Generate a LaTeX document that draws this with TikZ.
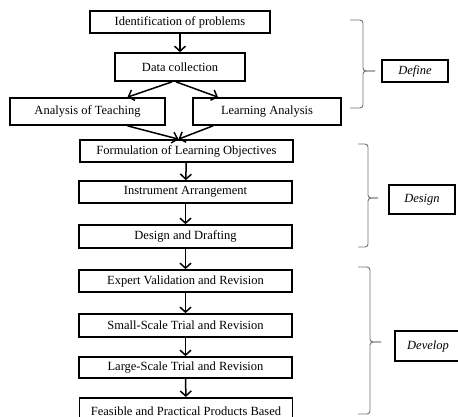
\documentclass[tikz,border=0pt]{standalone}
\usepackage{fontspec}
\setmainfont{Liberation Serif}
\usetikzlibrary{arrows.meta}

\begin{document}
\begin{tikzpicture}[x=1pt, y=-1pt,
    every node/.style={font=\fontsize{12.5}{14}\selectfont},
    stage/.style={draw, line width=1.7pt, inner sep=0pt, minimum width=213pt, minimum height=22pt},
    phase/.style={draw, line width=1.7pt, inner sep=0pt, minimum width=66pt, minimum height=22pt, font=\fontsize{12.5}{14}\selectfont\itshape},
    flow/.style={line width=1.5pt, -{Straight Barb[length=5pt, width=11pt]}},
    grp/.style={draw=black!55, line width=0.9pt, rounded corners=3pt}]
      \clip (0,0) rectangle (458,417);
      % Define stage
      \node[stage, minimum width=180pt] (idf) at (180,22) {Identification of problems};
      \node[stage, minimum width=130pt, minimum height=28pt] (dat) at (180,67) {Data collection};
      \node[stage, minimum width=155pt, minimum height=27pt] (tch) at (87.5,111.5) {Analysis of Teaching};
      \node[stage, minimum width=148pt, minimum height=27pt] (lrn) at (267,111.5) {Learning Analysis};
      % Design stage
      \node[stage] (obj) at (186.5,151) {Formulation of Learning Objectives};
      \node[stage] (ins) at (185.5,192) {Instrument Arrangement};
      \node[stage, minimum height=23pt] (drf) at (185.5,236.5) {Design and Drafting};
      % Develop stage
      \node[stage] (val) at (185.5,281) {Expert Validation and Revision};
      \node[stage, minimum height=23pt] (sml) at (185.5,325.5) {Small-Scale Trial and Revision};
      \node[stage, minimum height=21pt] (lrg) at (185.5,367.5) {Large-Scale Trial and Revision};
      \node[stage, minimum height=26pt, anchor=north] (prd) at (186,397) {Feasible and Practical Products Based};
      % arrows
      \draw[flow] (idf) -- (dat);
      \draw[flow] ([xshift=-8]dat.south) -- ([xshift=40]tch.north);
      \draw[flow] ([xshift=-4]dat.south) -- ([xshift=-49]lrn.north);
      \draw[flow] ([xshift=40]tch.south) -- ([xshift=-8]obj.north);
      \draw[flow] ([xshift=-54]lrn.south) -- ([xshift=-8]obj.north);
      \draw[flow] (obj) -- (ins);
      \draw[flow] (ins) -- (drf);
      \draw[flow] (drf) -- (val);
      \draw[flow] (val) -- (sml);
      \draw[flow] (sml) -- (lrg);
      \draw[flow] (lrg) -- (prd);
      % phase braces
      \draw[grp] (350,20) -| (363,71) -- (375,71);
      \draw[grp] (350,108) -| (363,71) -- (375,71);
      \draw[grp] (358,144) -| (368,198) -- (378,198);
      \draw[grp] (358,247) -| (368,198) -- (378,198);
      \draw[grp] (358,267) -| (370,342) -- (381,342);
      \draw[grp] (358,414) -| (370,342) -- (381,342);
      % phase labels
      \node[phase] (def) at (415,71) {Define};
      \node[phase, minimum height=29pt] (dsg) at (422,199.5) {Design};
      \node[phase, minimum width=76pt, minimum height=30pt] (dev) at (433,346) {\hspace*{-10pt}Develop};
\end{tikzpicture}
\end{document}
